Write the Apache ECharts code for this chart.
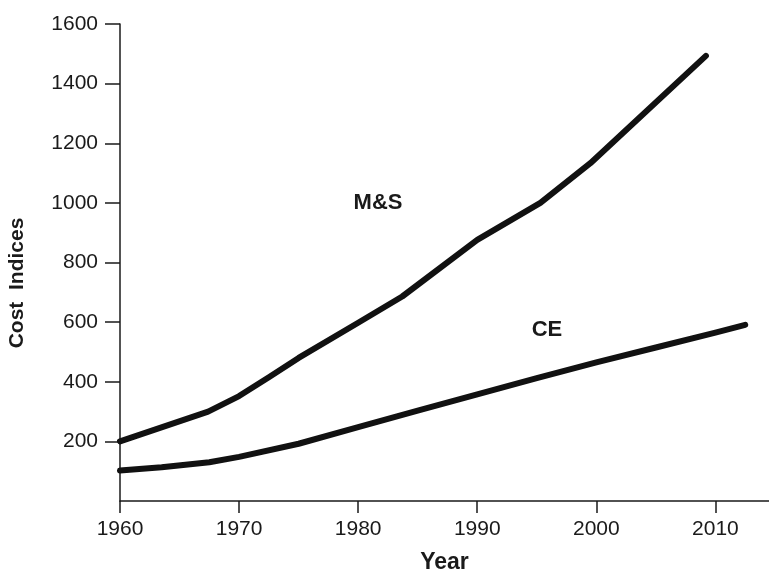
<!DOCTYPE html>
<html>
<head>
<meta charset="utf-8">
<script src="https://cdn.jsdelivr.net/npm/echarts@6/dist/echarts.min.js"></script>
<style>
  html, body { margin: 0; padding: 0; background: #fff; }
  #chart { width: 769px; height: 572px; }
</style>
</head>
<body>
<div id="chart"></div>
<script>
// values
var msYears = [1960, 1967.4, 1970, 1972.5, 1975, 1980, 1983.7, 1990, 1995.3, 1999.5, 2009.2];
var msValues = [200, 300, 352, 415, 480, 598, 686, 876, 1000, 1133, 1493];

var ceYears = [1960, 1963.5, 1967.5, 1970, 1975, 1980, 1985, 1990, 1995, 2000, 2005, 2010, 2012.5];
var ceValues = [102, 113, 130, 148, 192, 248, 303, 358, 412, 465, 515, 565, 591];

var xTicks = [1960, 1970, 1980, 1990, 2000, 2010];
var yTicks = [200, 400, 600, 800, 1000, 1200, 1400, 1600];

function pairs(xs, ys) {
    var out = [];
    for (var i = 0; i < xs.length; i++) {
        out.push([xs[i], ys[i]]);
    }
    return out;
}

var chart = echarts.init(document.getElementById('chart'));

var ink = '#1a1a1a';
var font = "'Liberation Sans', Arial, Helvetica, sans-serif";

var option = {
    animation: false,
    grid: {
        left: 120,
        right: 0,
        top: 24,
        bottom: 71,
        containLabel: false,
        outerBoundsMode: 'none'
    },
    xAxis: {
        type: 'value',
        min: 1960,
        max: 2014.5,
        interval: 10,
        name: 'Year',
        nameLocation: 'middle',
        nameGap: 50,
        nameTextStyle: { color: ink, fontSize: 23, fontWeight: 'bold', fontFamily: font },
        axisLine: { show: true, onZero: false, lineStyle: { color: ink, width: 1.5 } },
        axisTick: { show: true, inside: false, length: 12, customValues: xTicks, lineStyle: { color: ink, width: 1.5 } },
        axisLabel: {
            customValues: xTicks, margin: 18, color: ink, fontSize: 21, fontFamily: font,
            formatter: function (v) { return String(v); }
        },
        splitLine: { show: false }
    },
    yAxis: {
        type: 'value',
        min: 0,
        max: 1600,
        interval: 200,
        axisLine: { show: true, onZero: false, lineStyle: { color: ink, width: 1.5 } },
        axisTick: { show: true, inside: false, length: 15, customValues: yTicks, lineStyle: { color: ink, width: 1.5 } },
        axisLabel: {
            customValues: yTicks, margin: 22, color: ink, fontSize: 21, fontFamily: font,
            formatter: function (v) { return String(v); }
        },
        splitLine: { show: false }
    },
    graphic: [
        {
            type: 'text',
            x: 17,
            y: 283,
            rotation: Math.PI / 2,
            style: {
                text: 'Cost  Indices',
                fill: ink,
                font: 'bold 21px ' + font,
                textAlign: 'center',
                textVerticalAlign: 'middle'
            }
        },
        {
            type: 'text',
            x: 378,
            y: 203,
            style: {
                text: 'M&S',
                fill: ink,
                font: 'bold 22px ' + font,
                textAlign: 'center',
                textVerticalAlign: 'middle'
            }
        },
        {
            type: 'text',
            x: 547,
            y: 330,
            style: {
                text: 'CE',
                fill: ink,
                font: 'bold 22px ' + font,
                textAlign: 'center',
                textVerticalAlign: 'middle'
            }
        }
    ],
    series: [
        {
            name: 'M&S',
            type: 'line',
            data: pairs(msYears, msValues),
            showSymbol: false,
            lineStyle: { color: '#111', width: 6, cap: 'round', join: 'round' }
        },
        {
            name: 'CE',
            type: 'line',
            data: pairs(ceYears, ceValues),
            showSymbol: false,
            lineStyle: { color: '#111', width: 6, cap: 'round', join: 'round' }
        }
    ]
};

chart.setOption(option);
</script>
</body>
</html>
